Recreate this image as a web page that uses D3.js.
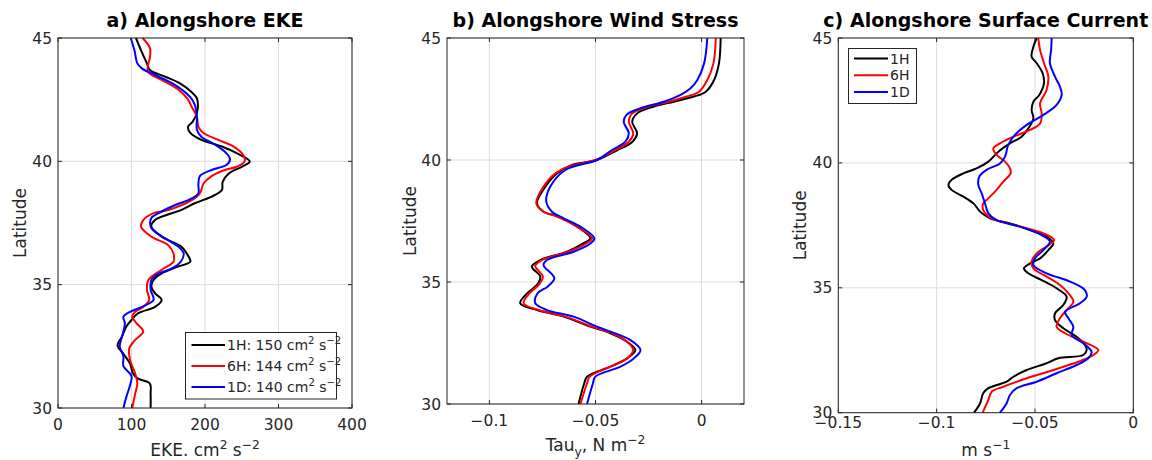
<!DOCTYPE html>
<html>
<head>
<meta charset="utf-8">
<script src="https://cdn.jsdelivr.net/npm/d3@7"></script>
<style>
  body { margin: 0; background: #fff; }
  svg text { font-family: "DejaVu Sans", sans-serif; fill: #262626; }
</style>
</head>
<body>
<svg id="fig" width="1152" height="460"></svg>
<script>
// tick values
const latTicks = [30, 35, 40, 45];
const ekeTicks = [0, 100, 200, 300, 400];
const tauTicks = [-0.1, -0.05, 0];
const curTicks = [-0.15, -0.1, -0.05, 0];

const runs = ["1H", "6H", "1D"];
const runColors = ["#000000", "#ff0000", "#0000ff"];
const ekeMeans = [150, 144, 140];

// [latitude, EKE cm2 s-2]
const eke1H = [[45,106],[44.5,113],[43.97,121],[43.7,125],[43.43,146],[43.16,166],[42.8,182],[42.55,189],[41.96,189],[41.6,183],[41.4,177],[41.15,180],[40.87,195],[40.6,223],[40.33,243],[39.99,261],[39.78,250],[39.5,232],[39.17,224],[38.84,223],[38.57,209],[38.3,186],[38.03,168],[37.62,132],[37.35,127],[36.95,141],[36.54,168],[36.27,175],[35.93,180],[35.73,163],[35.46,141],[35.19,130],[34.92,127],[34.65,132],[34.38,141],[34.1,132],[33.84,109],[33.57,100],[33.3,93],[32.89,87],[32.55,81],[32.2,89],[31.8,98],[31.4,102],[31.19,109],[30.99,125],[30.58,126],[30,126]];
const eke6H = [[45,115],[44.6,125],[44.2,125],[43.83,122],[43.6,123],[43.3,141],[42.9,164],[42.5,177],[42.2,182],[41.8,189],[41.4,191],[41.15,198],[40.87,218],[40.6,239],[40.26,252],[40,254],[39.78,243],[39.65,227],[39.4,209],[39.1,198],[38.7,193],[38.43,182],[38.03,150],[37.9,130],[37.62,116],[37.35,113],[36.95,127],[36.6,150],[36.27,157],[35.93,157],[35.6,141],[35.19,123],[34.8,121],[34.38,124],[34.1,116],[33.9,105],[33.7,101],[33.43,107],[33.1,116],[32.76,105],[32.42,97],[31.95,98],[31.4,105],[30.99,108],[30.58,105],[30,101]];
const eke1D = [[45,99],[44.5,104],[43.97,108],[43.77,114],[43.5,132],[43.1,159],[42.6,180],[42.3,186],[41.8,189],[41.28,189],[41,195],[40.67,214],[40.33,229],[40.07,234],[39.85,229],[39.65,209],[39.4,193],[39.05,191],[38.7,191],[38.5,182],[38.17,155],[37.9,137],[37.7,127],[37.3,127],[36.8,150],[36.54,164],[36.27,171],[35.93,167],[35.66,155],[35.4,134],[35.19,127],[34.8,126],[34.38,130],[34.1,114],[33.9,98],[33.7,89],[33.43,91],[32.89,87],[32.49,84],[32.1,89],[31.7,89],[31.3,100],[30.92,98],[30.45,93],[30,89]];

// [latitude, Tau_y N m-2]
const tau1H = [[45,0.0090],[43.96,0.0082],[43.28,0.0059],[42.8,0.0020],[42.6,-0.0036],[42.39,-0.0130],[42.19,-0.0225],[41.91,-0.0304],[41.57,-0.0327],[41.09,-0.0304],[40.74,-0.0327],[40.4,-0.0398],[40,-0.0493],[39.8,-0.0611],[39.45,-0.0682],[38.9,-0.0737],[38.22,-0.0776],[37.88,-0.0745],[37.68,-0.0674],[37.27,-0.0587],[36.79,-0.0524],[36.59,-0.0556],[36.24,-0.0634],[35.9,-0.0760],[35.63,-0.0800],[35.22,-0.0760],[34.88,-0.0776],[34.53,-0.0823],[34.13,-0.0855],[33.85,-0.0776],[33.58,-0.0650],[33.17,-0.0524],[32.9,-0.0430],[32.55,-0.0351],[32.21,-0.0312],[31.87,-0.0351],[31.53,-0.0430],[31.12,-0.0540],[30.85,-0.0553],[30,-0.0580]];
const tau6H = [[45,0.0067],[43.96,0.0056],[43.28,0.0027],[42.8,-0.0012],[42.6,-0.0070],[42.39,-0.0154],[42.19,-0.0248],[41.91,-0.0327],[41.57,-0.0343],[41.09,-0.0322],[40.75,-0.0343],[40.41,-0.0406],[40,-0.0501],[39.73,-0.0627],[39.45,-0.0690],[38.91,-0.0745],[38.22,-0.0779],[37.88,-0.0745],[37.68,-0.0682],[37.27,-0.0587],[36.79,-0.0516],[36.58,-0.0543],[36.24,-0.0627],[35.9,-0.0753],[35.66,-0.0784],[35.22,-0.0748],[34.88,-0.0768],[34.54,-0.0811],[34.13,-0.0839],[33.85,-0.0768],[33.58,-0.0642],[33.17,-0.0516],[32.9,-0.0422],[32.55,-0.0351],[32.21,-0.0322],[31.87,-0.0351],[31.53,-0.0430],[31.12,-0.0527],[30.85,-0.0540],[30,-0.0571]];
const tau1D = [[45,0.0027],[43.96,0.0012],[43.28,-0.0020],[42.94,-0.0052],[42.67,-0.0099],[42.39,-0.0178],[42.12,-0.0288],[41.85,-0.0354],[41.57,-0.0367],[41.09,-0.0343],[40.75,-0.0359],[40.41,-0.0422],[40,-0.0493],[39.59,-0.0642],[38.91,-0.0713],[38.29,-0.0732],[37.88,-0.0705],[37.61,-0.0650],[37.27,-0.0571],[36.79,-0.0505],[36.58,-0.0524],[36.24,-0.0603],[35.9,-0.0729],[35.7,-0.0745],[35.15,-0.0694],[34.81,-0.0726],[34.54,-0.0773],[34.13,-0.0784],[33.85,-0.0729],[33.58,-0.0603],[33.17,-0.0493],[32.62,-0.0335],[32.21,-0.0288],[31.87,-0.0319],[31.53,-0.0382],[31.12,-0.0501],[30.85,-0.0512],[30,-0.0540]];

// [latitude, current m s-1]
const cur1H = [[45,-0.0491],[44.65,-0.0508],[44.25,-0.0517],[43.99,-0.0491],[43.59,-0.0461],[43.19,-0.0454],[42.72,-0.0478],[42.45,-0.0508],[42.12,-0.0517],[41.78,-0.0508],[41.38,-0.0534],[41.05,-0.0568],[40.78,-0.0627],[40.45,-0.0686],[40.05,-0.0737],[39.78,-0.0797],[39.58,-0.0864],[39.32,-0.0924],[39.12,-0.0940],[38.92,-0.0924],[38.65,-0.0864],[38.38,-0.0813],[38.05,-0.0779],[37.78,-0.0729],[37.58,-0.0627],[37.31,-0.0525],[37.05,-0.0441],[36.78,-0.0407],[36.51,-0.0432],[36.18,-0.0474],[35.98,-0.0525],[35.78,-0.0556],[35.58,-0.0534],[35.31,-0.0466],[34.98,-0.0390],[34.64,-0.0339],[34.31,-0.0356],[33.98,-0.0398],[33.71,-0.0398],[33.38,-0.0356],[33.04,-0.0288],[32.71,-0.0246],[32.51,-0.0237],[32.31,-0.0254],[32.18,-0.0381],[31.98,-0.0441],[31.71,-0.0542],[31.44,-0.0610],[31.24,-0.0644],[30.98,-0.0737],[30.78,-0.0763],[30.38,-0.0779],[30,-0.0810]];
const cur6H = [[45,-0.0483],[44.52,-0.0474],[43.99,-0.0454],[43.45,-0.0432],[42.92,-0.0441],[42.38,-0.0474],[41.98,-0.0466],[41.58,-0.0474],[41.32,-0.0525],[41.05,-0.0610],[40.78,-0.0678],[40.58,-0.0712],[40.32,-0.0695],[40.05,-0.0652],[39.78,-0.0627],[39.58,-0.0624],[39.25,-0.0661],[38.92,-0.0695],[38.58,-0.0737],[38.38,-0.0763],[38.11,-0.0763],[37.78,-0.0720],[37.51,-0.0602],[37.18,-0.0457],[36.91,-0.0403],[36.65,-0.0441],[36.38,-0.0491],[36.05,-0.0517],[35.78,-0.0508],[35.45,-0.0441],[35.11,-0.0373],[34.78,-0.0330],[34.44,-0.0305],[34.11,-0.0339],[33.78,-0.0373],[33.44,-0.0390],[33.18,-0.0347],[32.84,-0.0254],[32.51,-0.0178],[32.31,-0.0203],[32.04,-0.0280],[31.71,-0.0407],[31.38,-0.0542],[31.04,-0.0661],[30.84,-0.0720],[30.51,-0.0737],[30,-0.0766]];
const cur1D = [[45,-0.0415],[44.52,-0.0418],[43.99,-0.0424],[43.45,-0.0398],[43.05,-0.0373],[42.72,-0.0364],[42.32,-0.0390],[41.92,-0.0457],[41.52,-0.0542],[41.12,-0.0602],[40.72,-0.0636],[40.25,-0.0652],[39.98,-0.0678],[39.72,-0.0746],[39.45,-0.0783],[39.12,-0.0788],[38.78,-0.0771],[38.38,-0.0754],[37.98,-0.0737],[37.71,-0.0695],[37.45,-0.0576],[37.11,-0.0466],[36.85,-0.0424],[36.51,-0.0457],[36.18,-0.0500],[35.91,-0.0508],[35.58,-0.0441],[35.25,-0.0322],[34.91,-0.0246],[34.64,-0.0237],[34.38,-0.0271],[34.04,-0.0347],[33.78,-0.0330],[33.44,-0.0305],[33.11,-0.0313],[32.78,-0.0254],[32.44,-0.0212],[32.18,-0.0229],[31.91,-0.0288],[31.58,-0.0390],[31.24,-0.0491],[30.98,-0.0593],[30.71,-0.0627],[30.38,-0.0644],[30,-0.0678]];

const svg = d3.select("#fig");
const axisCol = "#262626";

// write text with superscript / subscript parts
function richText(sel, parts, size) {
  let shift = 0;
  parts.forEach(p => {
    const target = p.sup ? -0.42 * size : p.sub ? 0.32 * size : 0;
    sel.append("tspan")
      .attr("dy", target - shift)
      .style("font-size", (p.sup || p.sub) ? (size * 0.72) + "px" : size + "px")
      .text(p.t);
    shift = target;
  });
}

const fmt = d3.format("~g");

const panels = [
  { box: [58, 352, 38, 408], dom: [0, 400], ticks: ekeTicks, data: [eke1H, eke6H, eke1D],
    title: "a) Alongshore EKE", tickPad: 22, xlabY: 456, ylabX: 26,
    xlab: [{t: "EKE. cm"}, {t: "2", sup: true}, {t: " s"}, {t: "\u22122", sup: true}],
    legend: "a" },
  { box: [447, 744, 38, 404], dom: [-0.12, 0.02], ticks: tauTicks, data: [tau1H, tau6H, tau1D],
    title: "b) Alongshore Wind Stress", tickPad: 21.5, xlabY: 451, ylabX: 416,
    xlab: [{t: "Tau"}, {t: "y", sub: true}, {t: ", N m"}, {t: "\u22122", sup: true}] },
  { box: [838.3, 1133.3, 38, 412.7], dom: [-0.15, 0], ticks: curTicks, data: [cur1H, cur6H, cur1D],
    title: "c) Alongshore Surface Current", tickPad: 15, xlabY: 456, ylabX: 806,
    xlab: [{t: "m s"}, {t: "\u22121", sup: true}],
    legend: "c" }
];

panels.forEach(p => {
  const [l, r, t, b] = p.box;
  const x = d3.scaleLinear().domain(p.dom).range([l, r]);
  const y = d3.scaleLinear().domain([30, 45]).range([b, t]);
  const g = svg.append("g");

  // grid
  g.selectAll(".vg").data(p.ticks).join("line")
    .attr("x1", d => x(d)).attr("x2", d => x(d)).attr("y1", t).attr("y2", b)
    .attr("stroke", "#dcdcdc").attr("stroke-width", 1);
  g.selectAll(".hg").data(latTicks).join("line")
    .attr("x1", l).attr("x2", r).attr("y1", d => y(d)).attr("y2", d => y(d))
    .attr("stroke", "#dcdcdc").attr("stroke-width", 1);

  // profiles
  const line = d3.line().x(d => x(d[1])).y(d => y(d[0])).curve(d3.curveCatmullRom.alpha(0.5));
  p.data.forEach((s, i) => {
    g.append("path").datum(s).attr("d", line)
      .attr("fill", "none").attr("stroke", runColors[i]).attr("stroke-width", 2);
  });

  // box + inward ticks on all sides
  g.append("rect").attr("x", l).attr("y", t).attr("width", r - l).attr("height", b - t)
    .attr("fill", "none").attr("stroke", axisCol).attr("stroke-width", 1);
  p.ticks.forEach(v => {
    g.append("line").attr("x1", x(v)).attr("x2", x(v)).attr("y1", b).attr("y2", b - 4).attr("stroke", axisCol);
    g.append("line").attr("x1", x(v)).attr("x2", x(v)).attr("y1", t).attr("y2", t + 4).attr("stroke", axisCol);
    g.append("text").attr("x", x(v)).attr("y", b + p.tickPad)
      .attr("text-anchor", "middle").style("font-size", "15.5px").text(fmt(v));
  });
  latTicks.forEach(v => {
    g.append("line").attr("x1", l).attr("x2", l + 4).attr("y1", y(v)).attr("y2", y(v)).attr("stroke", axisCol);
    g.append("line").attr("x1", r).attr("x2", r - 4).attr("y1", y(v)).attr("y2", y(v)).attr("stroke", axisCol);
    g.append("text").attr("x", l - 6).attr("y", y(v)).attr("dy", "0.36em")
      .attr("text-anchor", "end").style("font-size", "15.5px").text(v);
  });

  // titles & labels
  g.append("text").attr("x", (l + r) / 2).attr("y", 27).attr("text-anchor", "middle")
    .style("font-size", "19px").style("font-weight", "bold").style("fill", "#000").text(p.title);
  richText(g.append("text").attr("x", (l + r) / 2).attr("y", p.xlabY).attr("text-anchor", "middle"), p.xlab, 17);
  g.append("text").attr("transform", `translate(${p.ylabX},${(t + b) / 2}) rotate(-90)`)
    .attr("text-anchor", "middle").style("font-size", "17px").text("Latitude");

  // legends
  if (p.legend === "a") {
    const lg = g.append("g");
    lg.append("rect").attr("x", 185.5).attr("y", 332.5).attr("width", 151).attr("height", 66.5)
      .attr("fill", "#fff").attr("stroke", axisCol);
    runs.forEach((name, i) => {
      const ry = 345 + i * 21;
      lg.append("line").attr("x1", 191.5).attr("x2", 225).attr("y1", ry).attr("y2", ry)
        .attr("stroke", runColors[i]).attr("stroke-width", 2);
      richText(lg.append("text").attr("x", 227).attr("y", ry + 5), [
        {t: `${name}: ${ekeMeans[i]} cm`}, {t: "2", sup: true}, {t: " s"}, {t: "\u22122", sup: true}
      ], 14);
    });
  }
  if (p.legend === "c") {
    const lg = g.append("g");
    lg.append("rect").attr("x", 848.5).attr("y", 48.5).attr("width", 68).attr("height", 55)
      .attr("fill", "#fff").attr("stroke", axisCol);
    runs.forEach((name, i) => {
      const ry = 58.5 + i * 16.7;
      lg.append("line").attr("x1", 854).attr("x2", 888).attr("y1", ry).attr("y2", ry)
        .attr("stroke", runColors[i]).attr("stroke-width", 2);
      lg.append("text").attr("x", 890).attr("y", ry + 5).style("font-size", "14px").text(name);
    });
  }
});
</script>
</body>
</html>
